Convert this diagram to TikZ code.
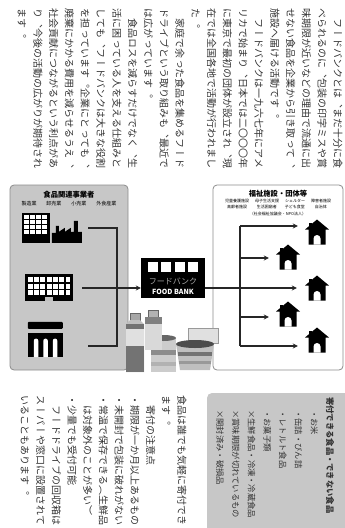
\documentclass[tikz,border=0pt]{standalone}
\usepackage{fontspec}
\newfontfamily\tatefont[Vertical=RotatedGlyphs]{Noto Sans CJK JP}
\newfontfamily\jpfont{Noto Sans CJK JP}
\usetikzlibrary{arrows.meta}
\usetikzlibrary{calc}
\tikzset{tate/.style={rotate=-90, anchor=west, inner sep=0pt, text=black!80, font=\tatefont\fontsize{10}{10}\selectfont}}
\tikzset{panel/.style={draw=black!45, line width=0.8pt, rounded corners=4pt, inner sep=0pt}}
\tikzset{title/.style={inner sep=0pt, font=\jpfont\bfseries\fontsize{7.3}{7.3}\selectfont}}
\tikzset{sub/.style={inner sep=0pt, font=\jpfont\fontsize{5}{5}\selectfont}}
\tikzset{link/.style={draw=black!85, line width=1.6pt}}
\tikzset{flow/.style={link, -{Stealth[length=5pt,width=5pt]}}}
\tikzset{icon/.style={inner sep=0pt}}
\tikzset{house/.style={minimum width=24pt, minimum height=25pt, inner sep=0pt, path picture={
  \begin{scope}[shift={(path picture bounding box.center)}]
    \fill[black] (-12,-2.5) -- (0,-12.5) -- (12,-2.5) -- (8.5,-2.5) -- (8.5,12.5) -- (-8.5,12.5) -- (-8.5,-2.5) -- cycle;
    \fill[black] (-8.5,-9.5) rectangle (-5.5,-4);
    \fill[white] (-3.5,12.6) -- (-3.5,6.5) arc (180:360:3.5) -- (3.5,12.6) -- cycle;
  \end{scope}}}}

\begin{document}
\begin{tikzpicture}[x=1pt, y=-1pt]
\useasboundingbox (0,0) rectangle (345,528);

%article text, upper half
\foreach \i/\txt in {
  0/{　フードバンクとは、まだ十分に食},
  1/{べられるのに、包装の印字ミスや賞},
  2/{味期限が近いなどの理由で流通に出},
  3/{せない食品を企業から引き取って、},
  4/{施設へ届ける活動です。},
  5/{　フードバンクは一九六七年にアメ},
  6/{リカで始まり、日本では二〇〇〇年},
  7/{に東京で最初の団体が設立され、現},
  8/{在では全国各地で活動が行われまし},
  9/{た。},
  10/{　家庭で余った食品を集めるフード},
  11/{ドライブという取り組みも、最近で},
  12/{は広がっています。},
  13/{　食品ロスを減らすだけでなく、生},
  14/{活に困っている人を支える仕組みと},
  15/{しても、フードバンクは大きな役割},
  16/{を担っています。企業にとっても、},
  17/{廃棄にかかる費用を減らせるうえ、},
  18/{社会貢献につながるという利点があ},
  19/{り、今後の活動の広がりが期待され},
  20/{ます。}}
  \node[tate] (top\i) at (338-15.8*\i, 8) {\txt};

%suppliers
\node[panel, fill=black!22, minimum width=118pt, minimum height=185pt] (src) at (69,277.5) {};
\node[title] (srct) at (69,195) {食品関連事業者};
\node[sub] (srcs) at (69,204) {製造業\hspace{10pt}卸売業\hspace{10pt}小売業\hspace{10pt}外食産業};

\node[icon, minimum width=60pt, minimum height=30pt] (fct) at (52,228) {};
\begin{scope}[shift={(fct.north west)}]
  \fill[black] (0,0) rectangle (28,30);
  \foreach \c in {0,...,3}
    \foreach \r in {0,...,3}
      \fill[white] (2.5+\c*6,2+\r*5.2) rectangle ++(4.5,4);
  \fill[black] (30,30) -- (30,20) -- (34,20) -- (34,13) -- (37,13) -- (37,19) -- (43,15) -- (43,19) -- (49,15) -- (49,19) -- (52,19) -- (52,8) -- (56,8) -- (56,19) -- (60,19) -- (60,30) -- cycle;
\end{scope}

\node[icon, minimum width=48pt, minimum height=27pt] (ofc) at (49,288) {};
\begin{scope}[shift={(ofc.north west)}]
  \fill[black] (0,0) rectangle (48,27);
  \foreach \c in {0,...,6}
    \foreach \r in {0,1,2}
      \fill[white] (3+\c*6.3,3+\r*6.5) rectangle ++(4.8,5);
  \fill[black!25] (20,23) rectangle (28,27);
\end{scope}

\node[icon, minimum width=35pt, minimum height=35pt] (sto) at (45.5,339.5) {};
\begin{scope}[shift={(sto.north west)}]
  \fill[black, rounded corners=1pt] (0,0) rectangle (35,7);
  \fill[black] (0,11) rectangle (35,35);
  \foreach \sx in {6,15.5,25}
    \fill[white] (\sx,35.2) -- (\sx,19) arc (180:360:2.25) -- (\sx+4.5,35.2) -- cycle;
\end{scope}

\coordinate (jn) at (117,288);
\draw[link] ($(fct.east)+(6,0)$) -| (jn) |- ($(sto.east)+(25,6.5)$);

%receivers
\node[panel, fill=white, minimum width=130pt, minimum height=185pt] (rcv) at (278,277.5) {};
\node[title] (rcvt) at (278,194) {福祉施設・団体等};
\node[inner sep=0pt, font=\jpfont\fontsize{4}{6.5}\selectfont] (rcvs) at (278,207.5) {%
  \begin{tabular}{@{}c@{\hspace{6pt}}c@{\hspace{6pt}}c@{\hspace{6pt}}c@{}}
  児童養護施設 & 母子生活支援 & シェルター & 障害者施設\\
  高齢者施設 & 生活困窮者 & 子ども食堂 & 自治体\\
  \multicolumn{4}{c}{（社会福祉協議会・NPO法人）}
  \end{tabular}};

\node[house] (h1) at (317,232) {};
\node[house] (h2) at (288,257) {};
\node[house] (h3) at (317,288) {};
\node[house] (h4) at (288,314) {};
\node[house] (h5) at (317,340) {};

%food bank
\node[fill=black, minimum width=64pt, minimum height=40pt, inner sep=0pt] (fb) at (173,278) {};
\begin{scope}[shift={(fb.north west)}]
  \foreach \sx in {7,20.5,34,47.5}
    \fill[white] (\sx,4) rectangle ++(10,10);
\end{scope}
\node[inner sep=0pt, text=black!35, font=\jpfont\fontsize{8}{8}\selectfont] (fbj) at (173,281) {フードバンク};
\node[inner sep=0pt, text=white, font=\jpfont\bfseries\fontsize{7}{7}\selectfont] (fbe) at (173,292) {FOOD BANK};

\draw[flow] ($(ofc.east)+(9,0)$) -- (fb.west |- ofc.east);
\draw[flow, shorten >=8pt] (fb.east |- h3.west) -- (h3.west);

\coordinate (b1) at (240,226);
\coordinate (b2) at (240,258);
\coordinate (b4) at (240,317);
\coordinate (b5) at (240,346);
\draw[link] (b1) -- (b5);
\foreach \b/\h in {b1/h1, b2/h2, b4/h4, b5/h5}
  \draw[flow, shorten >=7pt] (\b) -- (\b -| \h.west);

%donated food
\filldraw[fill=black!12, draw=black!40, line width=.5pt] (188,328) rectangle (218,343);
\fill[black!25] (176,344) -- (214,344) -- (210,370) -- (180,370) -- cycle;
\fill[black!55] (178,352) rectangle (212,356);
\fill[black!40] (179,361) rectangle (211,364);
\fill[black!70] (195,344) ellipse (19 and 4);
\fill[black!20] (151,338) rectangle (176,372);
\fill[black!45] (151,350) rectangle (176,355);
\fill[black!30] (151,362) rectangle (176,366);
\fill[black!60] (163.5,338) ellipse (12.5 and 3);
\filldraw[fill=black!30, draw=black!60, line width=.5pt] (148,310) rectangle (158,317);
\fill[black!15] (145,317) rectangle (162,350);
\fill[black!50] (145,317) rectangle (162,324);
\filldraw[fill=black!35, draw=black!60, line width=.5pt] (130,313) rectangle (140,320);
\fill[black!25] (126,324) -- (130,320) -- (140,320) -- (144,324) -- (144,372) -- (126,372) -- cycle;
\fill[black!55] (126,324) rectangle (144,329);
\fill[black!12] (126,329) rectangle (144,346);
\fill[black!55] (126,346) rectangle (144,372);

%article text, lower half
\foreach \i/\txt in {
  0/{食品は誰でも気軽に寄付でき},
  1/{ます。},
  2/{　寄付の注意点},
  3/{・期限が一か月以上あるもの},
  4/{・未開封で包装に破れがない},
  5/{・常温で保存できる（生鮮品},
  6/{　は対象外のことが多い）},
  7/{・少量でも受付可能},
  8/{　フードドライブの回収箱は},
  9/{スーパーや窓口に設置されて},
  10/{いることもあります。}}
  \node[tate] (low\i) at (182-15.7*\i, 395) {\txt};

%side box
\fill[black!22, rounded corners=5pt] (207,393) rectangle (360,540);
\node[tate, font=\tatefont\bfseries\fontsize{8.3}{8.3}\selectfont] (boxt) at (330,397) {寄付できる食品・できない食品};
\foreach \i/\txt in {
  1/{・お米},
  2/{・缶詰・びん詰},
  3/{・レトルト食品},
  4/{・お菓子類},
  5/{×生鮮食品・冷凍・冷蔵食品},
  6/{×賞味期限が切れているもの},
  7/{×開封済み・破損品}}
  \node[tate, font=\tatefont\fontsize{8.3}{8.3}\selectfont] (box\i) at (330-15.7*\i, 410) {\txt};

\end{tikzpicture}
\end{document}
